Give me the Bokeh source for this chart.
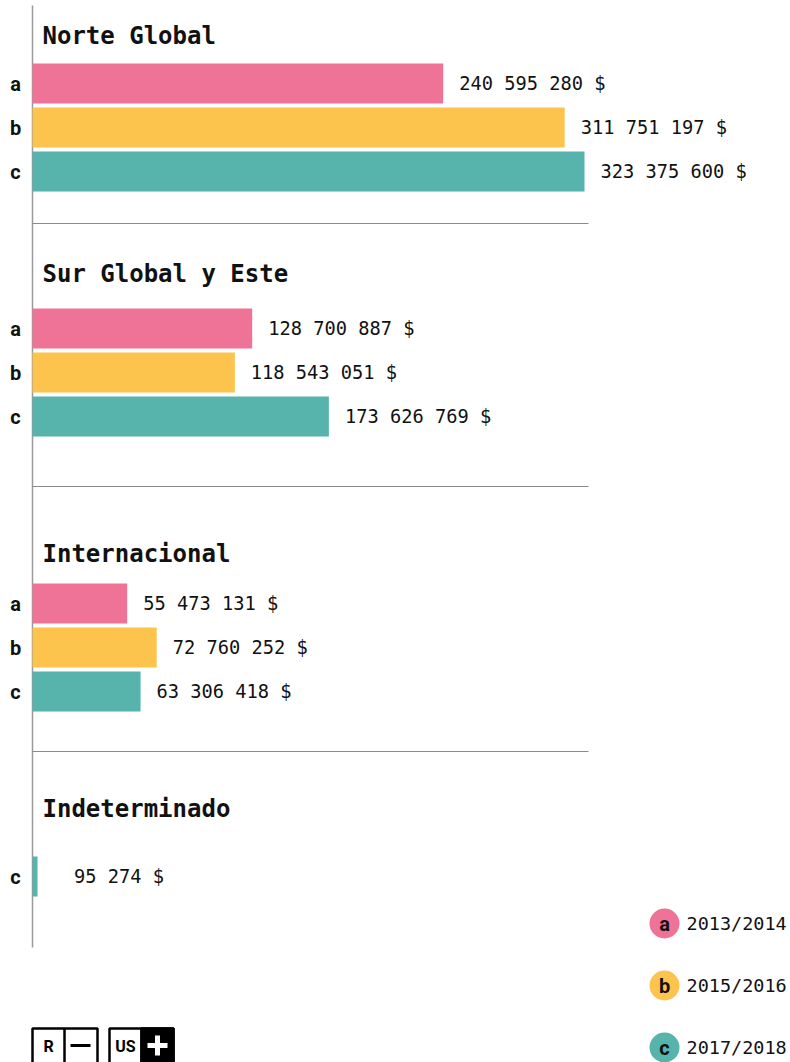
from bokeh.plotting import figure
from bokeh.models import Range1d
from bokeh.core.properties import value
from bokeh.embed import file_html
from bokeh.resources import INLINE

# ---------------- data ----------------
regions = ["Norte Global", "Sur Global y Este", "Internacional", "Indeterminado"]
periods = ["a", "b", "c"]
period_labels = ["2013/2014", "2015/2016", "2017/2018"]
val_norte = [240595280, 311751197, 323375600]
val_sur = [128700887, 118543051, 173626769]
val_inter = [55473131, 72760252, 63306418]
val_indet = [None, None, 95274]
region_values = [val_norte, val_sur, val_inter, val_indet]

# ---------------- styles / layout ----------------
colors = ["#EF7396", "#FDC44D", "#57B4AC"]
W, H = 790, 1062
x0_px = 32                 # where value 0 sits
px_per_unit = 552 / 323375600
min_bar_px = 5
title_y = [35, 273, 553, 808]
first_row_y = [83, 328, 603, 876]
sep_y = [223, 486, 751]
row_step = 44
bar_h = 40
MONO = "DejaVu Sans Mono"
SANS = "Roboto"

p = figure(width=W, height=H, output_backend="svg", toolbar_location=None,
           x_range=Range1d(0, W), y_range=Range1d(H, 0),
           min_border=0, outline_line_color=None)
p.axis.visible = False
p.grid.visible = False
p.extra_x_ranges = {"val": Range1d(-x0_px / px_per_unit, (W - x0_px) / px_per_unit)}

# vertical axis line & separators
p.segment(x0=[x0_px], y0=[5], x1=[x0_px], y1=[947], line_color="#9a9a9a", line_width=1.5)
p.segment(x0=[x0_px] * len(sep_y), y0=sep_y, x1=[588] * len(sep_y), y1=sep_y,
          line_color="#8a8a8a", line_width=1)

# titles
p.text(x=[42] * len(regions), y=title_y, text=regions, text_font=value(MONO),
       text_font_style="bold", text_font_size="24px", text_baseline="middle",
       text_color="#111111")

for r, vals in enumerate(region_values):
    ys, vs, cs, labs, letters = [], [], [], [], []
    k = 0
    for i, v in enumerate(vals):
        if v is None:
            continue
        ys.append(first_row_y[r] + k * row_step)
        vs.append(v)
        cs.append(colors[i])
        labs.append(f"{v:,}".replace(",", " ") + " $")
        letters.append(periods[i])
        k += 1
    p.hbar(y=ys, left=0, right=[max(v, min_bar_px / px_per_unit) for v in vs],
           height=bar_h, fill_color=cs, line_color=None, x_range_name="val")
    p.text(x=[max(v, 15e6) for v in vs], y=ys, text=labs, x_range_name="val",
           x_offset=16, text_font=value(MONO), text_font_size="18.7px",
           text_baseline="middle", text_color="#111111")
    p.text(x=[15] * len(ys), y=ys, text=letters, text_font=value(SANS),
           text_font_style="bold", text_font_size="20px", text_align="center",
           text_baseline="middle", text_color="#111111")

# legend
leg_y = [923, 985, 1047]
p.scatter(x=[664] * 3, y=leg_y, size=30, fill_color=colors, line_color=None)
p.text(x=[664] * 3, y=leg_y, text=periods, text_font=value(SANS), text_font_style="bold",
       text_font_size="20px", text_align="center", text_baseline="middle",
       text_color="#111111")
p.text(x=[686] * 3, y=leg_y, text=period_labels, text_font=value(MONO),
       text_font_size="18.5px", text_baseline="middle", text_color="#111111")

# bottom-left buttons
p.quad(left=[32, 109], right=[97, 173], top=[1028, 1028], bottom=[1068, 1068],
       fill_color="white", line_color="black", line_width=2.5)
p.quad(left=[141], right=[173], top=[1028], bottom=[1068], fill_color="black",
       line_color="black", line_width=2.5)
p.segment(x0=[64, 141], y0=[1028, 1028], x1=[64, 141], y1=[1068, 1068],
          line_color="black", line_width=2.5)
p.text(x=[48, 125], y=[1046, 1046], text=["R", "US"], text_font=value(SANS),
       text_font_style="bold", text_font_size="16px", text_align="center",
       text_baseline="middle", text_color="black")
p.segment(x0=[70], y0=[1045], x1=[90], y1=[1045], line_color="black", line_width=3)
p.segment(x0=[147, 157], y0=[1045, 1035], x1=[167, 157], y1=[1045, 1055],
          line_color="white", line_width=5)

open("out.html", "w").write(file_html(p, INLINE))
